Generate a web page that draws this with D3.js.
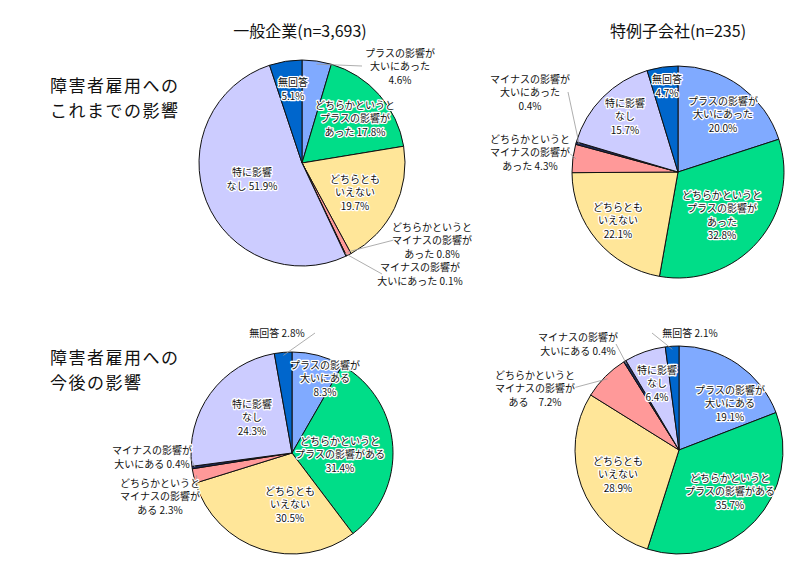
<!DOCTYPE html>
<html><head><meta charset="utf-8">
<script src="https://cdn.jsdelivr.net/npm/d3@7"></script>
<style>
body{margin:0;background:#fff;}
text{font-family:"Noto Sans CJK JP","Noto Sans",sans-serif;}
</style></head>
<body><svg id="chart" width="800" height="577"></svg>
<script>
// category order is clockwise from 12 o'clock
const categories = ["plusBig", "plusSome", "neither", "minusSome", "minusBig", "none", "na"];
const colors = ["#80aaff", "#00dd88", "#ffe699", "#ff9999", "#1f2a5c", "#ccccff", "#0066cc"];

const generalPast = [4.6, 17.8, 19.7, 0.8, 0.1, 51.9, 5.1];
const specialPast = [20.0, 32.8, 22.1, 4.3, 0.4, 15.7, 4.7];
const generalFuture = [8.3, 31.4, 30.5, 2.3, 0.4, 24.3, 2.8];
const specialFuture = [19.1, 35.7, 28.9, 7.2, 0.4, 6.4, 2.1];

const colTitles = ["一般企業(n=3,693)", "特例子会社(n=235)"];
const rowTitles = [["障害者雇用への", "これまでの影響"], ["障害者雇用への", "今後の影響"]];

// label text lines per slice (value appended where "%v" appears)
const labelsPast = [
  ["プラスの影響が", "大いにあった", "%v"],
  ["どちらかというと", "プラスの影響が", "あった %v"],
  ["どちらとも", "いえない", "%v"],
  ["どちらかというと", "マイナスの影響が", "あった %v"],
  ["マイナスの影響が", "大いにあった %v"],
  ["特に影響", "なし %v"],
  ["無回答", "%v"]
];
const labelsPastSp = [
  ["プラスの影響が", "大いにあった", "%v"],
  ["どちらかというと", "プラスの影響が", "あった", "%v"],
  ["どちらとも", "いえない", "%v"],
  ["どちらかというと", "マイナスの影響が", "あった %v"],
  ["マイナスの影響が", "大いにあった", "%v"],
  ["特に影響", "なし", "%v"],
  ["無回答", "%v"]
];
const labelsFuture = [
  ["プラスの影響が", "大いにある", "%v"],
  ["どちらかというと", "プラスの影響がある", "%v"],
  ["どちらとも", "いえない", "%v"],
  ["どちらかというと", "マイナスの影響が", "ある %v"],
  ["マイナスの影響が", "大いにある %v"],
  ["特に影響", "なし", "%v"],
  ["無回答 %v"]
];
const labelsFutureSp = [
  ["プラスの影響が", "大いにある", "%v"],
  ["どちらかというと", "プラスの影響がある", "%v"],
  ["どちらとも", "いえない", "%v"],
  ["どちらかというと", "マイナスの影響が", "ある　%v"],
  ["マイナスの影響が", "大いにある %v"],
  ["特に影響", "なし", "%v"],
  ["無回答 %v"]
];

// label placement: offset of label centre from pie centre; leader=true draws a line
const pies = [
  { values: generalPast, labels: labelsPast, cx: 302, cy: 163, r: 103,
    pos: [[98,-97,1],[53,-45,0],[53,29,0],[130,77,1],[118,111,1],[-50,16,0],[-9,-74,0]] },
  { values: specialPast, labels: labelsPastSp, cx: 678, cy: 172, r: 106,
    pos: [[45,-58,0],[44,43,0],[-60,48,0],[-148,-20,1],[-148,-80,1],[-53,-56,0],[-11,-86,0]] },
  { values: generalFuture, labels: labelsFuture, cx: 292, cy: 453, r: 101,
    pos: [[33,-75,0],[48,1,0],[-2,51,0],[-132,43,1],[-140,4,1],[-40,-36,0],[-15,-120,1]] },
  { values: specialFuture, labels: labelsFutureSp, cx: 679, cy: 450, r: 104,
    pos: [[51,-47,0],[51,41,0],[-61,24,0],[-144,-62,1],[-101,-106,1],[-22,-67,0],[11,-117,1]] }
];

const svg = d3.select("#chart");

colTitles.forEach((t, i) => {
  svg.append("text").attr("x", i ? 678 : 300).attr("y", 37)
    .attr("text-anchor", "middle").attr("font-size", 16).attr("fill", "#111").text(t);
});
rowTitles.forEach((lines, i) => {
  lines.forEach((l, j) => {
    svg.append("text").attr("x", 50).attr("y", (i ? 364 : 92) + j * 25)
      .attr("font-size", 17).attr("letter-spacing", 1.5).attr("fill", "#111").text(l);
  });
});

const pie = d3.pie().sort(null).value(d => d);
const color = d3.scaleOrdinal().domain(categories).range(colors);

pies.forEach(p => {
  const g = svg.append("g").attr("transform", `translate(${p.cx},${p.cy})`);
  const arc = d3.arc().innerRadius(0).outerRadius(p.r);
  const arcs = pie(p.values);

  g.selectAll("path").data(arcs).join("path")
    .attr("d", arc)
    .attr("fill", (d, i) => color(categories[i]))
    .attr("stroke", "#111").attr("stroke-width", 1);

  arcs.forEach((d, i) => {
    const [ox, oy, leader] = p.pos[i];
    const lines = p.labels[i].map(s => s.replace("%v", d.data.toFixed(1) + "%"));
    const lh = 13.5;
    const top = oy - (lines.length - 1) * lh / 2;
    if (leader) {
      const a = (d.startAngle + d.endAngle) / 2;
      const sx = Math.sin(a) * p.r * 0.97, sy = -Math.cos(a) * p.r * 0.97;
      const ex = ox + (ox > sx ? -1 : 1) * 38;
      const ey = top + (lines.length - 1) * lh * 0.5;
      g.append("polyline")
        .attr("points", `${sx},${sy} ${ex},${ey}`)
        .attr("fill", "none").attr("stroke", "#999").attr("stroke-width", 0.8);
    }
    const t = g.append("text").attr("text-anchor", "middle").attr("font-size", 10)
      .attr("fill", "#111").attr("stroke", "#fff").attr("stroke-width", 2.5)
      .attr("paint-order", "stroke").attr("stroke-linejoin", "round");
    lines.forEach((l, j) => {
      t.append("tspan").attr("x", ox).attr("y", top + j * lh + 4).text(l);
    });
  });
});
</script></body></html>
